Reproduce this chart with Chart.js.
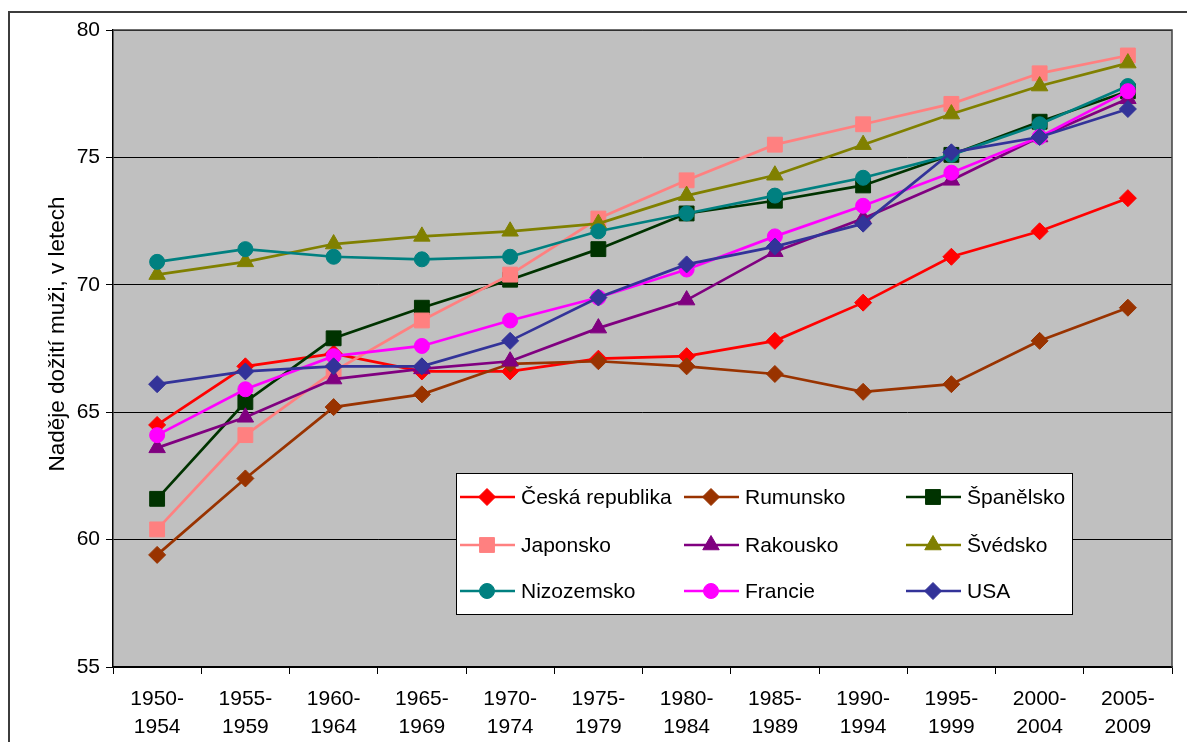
<!DOCTYPE html>
<html>
<head>
<meta charset="utf-8">
<script src="https://cdn.jsdelivr.net/npm/chart.js@4.4.1/dist/chart.umd.min.js"></script>
<style>
  html, body { margin: 0; padding: 0; background: #fff; }
  #wrap { width: 1187px; height: 742px; }
</style>
</head>
<body>
<div id="wrap"><canvas id="chart" width="1187" height="742"></canvas></div>
<script>
// obdobi (popisky osy x)
const periods = [
  ["1950-", "1954"], ["1955-", "1959"], ["1960-", "1964"], ["1965-", "1969"],
  ["1970-", "1974"], ["1975-", "1979"], ["1980-", "1984"], ["1985-", "1989"],
  ["1990-", "1994"], ["1995-", "1999"], ["2000-", "2004"], ["2005-", "2009"]
];

// nadeje doziti muzi, v letech
const ceskaRepublika = [64.5, 66.8, 67.3, 66.6, 66.6, 67.1, 67.2, 67.8, 69.3, 71.1, 72.1, 73.4];
const rumunsko       = [59.4, 62.4, 65.2, 65.7, 66.9, 67.0, 66.8, 66.5, 65.8, 66.1, 67.8, 69.1];
const spanelsko      = [61.6, 65.4, 67.9, 69.1, 70.2, 71.4, 72.8, 73.3, 73.9, 75.1, 76.4, 77.6];
const japonsko       = [60.4, 64.1, 66.6, 68.6, 70.4, 72.6, 74.1, 75.5, 76.3, 77.1, 78.3, 79.0];
const rakousko       = [63.6, 64.8, 66.3, 66.7, 67.0, 68.3, 69.4, 71.3, 72.6, 74.1, 75.8, 77.3];
const svedsko        = [70.4, 70.9, 71.6, 71.9, 72.1, 72.4, 73.5, 74.3, 75.5, 76.7, 77.8, 78.7];
const nizozemsko     = [70.9, 71.4, 71.1, 71.0, 71.1, 72.1, 72.8, 73.5, 74.2, 75.1, 76.3, 77.8];
const francie        = [64.1, 65.9, 67.2, 67.6, 68.6, 69.5, 70.6, 71.9, 73.1, 74.4, 75.8, 77.6];
const usa            = [66.1, 66.6, 66.8, 66.8, 67.8, 69.5, 70.8, 71.5, 72.4, 75.2, 75.8, 76.9];

const yTicks = [55, 60, 65, 70, 75, 80];
const yTitle = "Naděje dožití muži, v letech";

const FONT = "'Liberation Sans', Arial, sans-serif";

const series = [
  { label: "Česká republika", data: ceskaRepublika, color: "#FF0000", style: "rectRot",  r: 8.5 },
  { label: "Rumunsko",        data: rumunsko,       color: "#993300", style: "rectRot",  r: 8.5 },
  { label: "Španělsko",       data: spanelsko,      color: "#003300", style: "rect",     r: 10.5 },
  { label: "Japonsko",        data: japonsko,       color: "#FF8080", style: "rect",     r: 10.5 },
  { label: "Rakousko",        data: rakousko,       color: "#800080", style: "triangle", r: 9.5 },
  { label: "Švédsko",         data: svedsko,        color: "#808000", style: "triangle", r: 9.5 },
  { label: "Nizozemsko",      data: nizozemsko,     color: "#008080", style: "circle",   r: 7.5 },
  { label: "Francie",         data: francie,        color: "#FF00FF", style: "circle",   r: 7.5 },
  { label: "USA",             data: usa,            color: "#333399", style: "rectRot",  r: 8.5 }
];

const datasets = series.map((s, i) => ({
  label: s.label,
  data: s.data,
  borderColor: s.color,
  backgroundColor: s.color,
  borderWidth: 2.7,
  pointStyle: s.style,
  pointRadius: s.r,
  pointBorderWidth: 1,
  pointBackgroundColor: s.color,
  pointBorderColor: s.color,
  tension: 0,
  clip: false,
  order: series.length - i   // pozdejsi rady kreslit navrch
}));

// sede pozadi plochy grafu + vnejsi ramecek
const backgroundPlugin = {
  id: "background",
  beforeDraw(chart) {
    const { ctx, chartArea: a } = chart;
    ctx.save();
    ctx.fillStyle = "#C0C0C0";
    ctx.fillRect(a.left, a.top, a.right - a.left, a.bottom - a.top);
    ctx.strokeStyle = "#3c3c3c";
    ctx.lineWidth = 2;
    ctx.beginPath();
    ctx.moveTo(9, 742);
    ctx.lineTo(9, 12);
    ctx.lineTo(1187, 12);
    ctx.stroke();
    ctx.restore();
  },
  beforeDatasetsDraw(chart) {
    const { ctx, chartArea: a } = chart;
    ctx.save();
    ctx.strokeStyle = "#404040";
    ctx.lineWidth = 1.5;
    ctx.beginPath();
    ctx.moveTo(a.left, a.top);
    ctx.lineTo(a.right, a.top);
    ctx.lineTo(a.right, a.bottom);
    ctx.stroke();
    ctx.restore();
  }
};

function drawMarker(ctx, style, r, x, y) {
  if (Chart.helpers && Chart.helpers.drawPoint) {
    Chart.helpers.drawPoint(ctx, { pointStyle: style, radius: r, rotation: 0, borderWidth: 1 }, x, y);
    return;
  }
  ctx.beginPath();
  ctx.arc(x, y, r, 0, Math.PI * 2);
  ctx.fill();
}

// legenda uvnitr plochy + popisek osy y
const legendPlugin = {
  id: "insideLegend",
  afterDraw(chart) {
    const { ctx } = chart;
    ctx.save();
    ctx.fillStyle = "#fff";
    ctx.fillRect(456, 473, 616, 141);
    ctx.strokeStyle = "#000";
    ctx.lineWidth = 1;
    ctx.strokeRect(456.5, 473.5, 616, 141);

    const cols = [460, 684, 906];
    const rows = [497, 545, 591];
    ctx.font = "21px " + FONT;
    ctx.textBaseline = "middle";
    series.forEach((s, i) => {
      const x = cols[i % 3];
      const y = rows[Math.floor(i / 3)];
      ctx.strokeStyle = s.color;
      ctx.fillStyle = s.color;
      ctx.lineWidth = 2.7;
      ctx.beginPath();
      ctx.moveTo(x, y);
      ctx.lineTo(x + 55, y);
      ctx.stroke();
      ctx.lineWidth = 1;
      drawMarker(ctx, s.style, s.r, x + 27, y);
      ctx.fillStyle = "#000";
      ctx.textAlign = "left";
      ctx.fillText(s.label, x + 61, y + 1);
    });

    ctx.font = "22.5px " + FONT;
    ctx.translate(58, 334);
    ctx.rotate(-Math.PI / 2);
    ctx.textAlign = "center";
    ctx.fillStyle = "#000";
    ctx.fillText(yTitle, 0, 0);
    ctx.restore();
  }
};

new Chart(document.getElementById("chart").getContext("2d"), {
  type: "line",
  data: { labels: periods, datasets: datasets },
  options: {
    responsive: false,
    animation: false,
    layout: { padding: { left: 0, right: 15, top: 30, bottom: 0 } },
    plugins: { legend: { display: false }, tooltip: { enabled: false } },
    scales: {
      x: {
        offset: true,
        grid: { offset: true, drawOnChartArea: false, color: "#000", tickLength: 7 },
        border: { color: "#000", width: 1.5 },
        ticks: {
          color: "#000", font: { family: FONT, size: 21, lineHeight: 1.3 },
          padding: 12, maxRotation: 0, autoSkip: false
        },
        afterFit(s) { s.height = 75; }
      },
      y: {
        min: yTicks[0],
        max: yTicks[yTicks.length - 1],
        afterBuildTicks(s) { s.ticks = yTicks.map(v => ({ value: v })); },
        grid: { color: "#000", tickLength: 7 },
        border: { color: "#000", width: 1.5 },
        ticks: { color: "#000", font: { family: FONT, size: 21 }, padding: 6 },
        afterFit(s) { s.width = 113; }
      }
    }
  },
  plugins: [backgroundPlugin, legendPlugin]
});
</script>
</body>
</html>
